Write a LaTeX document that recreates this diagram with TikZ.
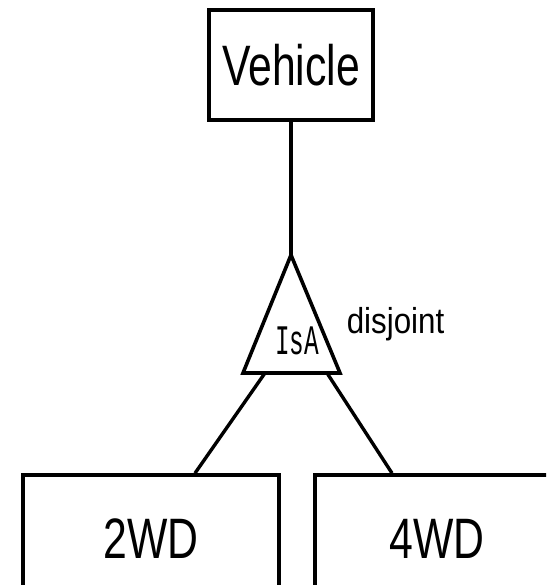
\documentclass[tikz,border=0pt]{standalone}
\usepackage{fontspec}
\setmainfont{Liberation Sans}
\newfontfamily\isafont{Liberation Mono}
\usetikzlibrary{positioning}
\usetikzlibrary{calc}

\begin{document}
\begin{tikzpicture}[x=1pt, y=-1pt, line width=3.6pt,
    entity/.style={draw, rectangle, minimum width=256pt, minimum height=128pt,
        inner sep=0pt, font=\fontsize{57}{60}\selectfont},
    link/.style={line width=3.4pt}]
    \path[use as bounding box, clip] (0,0) rectangle (546,585);

    % entities
    \node[entity, minimum width=164pt, minimum height=110pt] (vehicle) at (291,65) {\scalebox{0.75}[1]{Vehicle}};
    \node[entity] (twowd) at (151,539) {\scalebox{0.75}[1]{2WD}};
    \node[entity, minimum width=244pt] (fourwd) at (437,539) {\scalebox{0.75}[1]{4WD}};

    % isa triangle
    \coordinate (apex) at (291,255);
    \coordinate (baseL) at (243,373);
    \coordinate (baseR) at (340,373);
    \draw[line join=miter] (apex) -- (baseL) -- (baseR) -- cycle;
    \node[inner sep=0pt, font=\fontsize{42}{44}\isafont] (isa) at (297,341) {\scalebox{0.58}[1]{IsA}};
    \node[anchor=base west, inner sep=0pt, font=\fontsize{36}{40}\selectfont] (disj) at (345,333) {\scalebox{0.87}[1]{disjoint}};

    % links
    \coordinate (isaL) at (265,373);
    \coordinate (isaR) at (327,373);
    \draw[link] (vehicle) -- (apex);
    \draw[link] (isaL) -- ([xshift=44pt]twowd.north);
    \draw[link] (isaR) -- ([xshift=-45pt]fourwd.north);
\end{tikzpicture}
\end{document}
